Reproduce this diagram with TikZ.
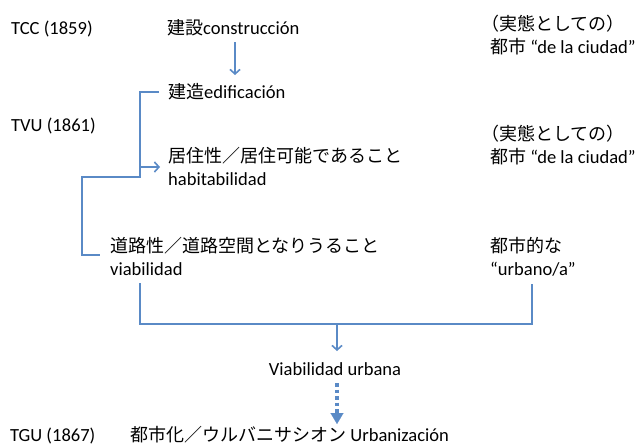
\documentclass[tikz,border=0pt]{standalone}
\usepackage{fontspec}
\setmainfont{Carlito}[Scale=1.03]
\newfontfamily\jp{Noto Sans CJK JP}
\usetikzlibrary{calc,arrows.meta}
\definecolor{lnblue}{HTML}{5A8AC6}
\begin{document}
\begin{tikzpicture}[x=1pt,y=-1pt,
  lbl/.style={inner sep=0pt,anchor=base west,font=\fontsize{18}{23}\selectfont},
  ln/.style={draw=lnblue,line width=1.6pt},
  arr/.style={ln,-{Straight Barb[length=4.5pt,width=10pt]}},
  dotarr/.style={draw=lnblue,line width=3.5pt,dash pattern=on 3.5pt off 3pt,-{Triangle[length=11pt,width=13pt,line width=0.1pt]}}]
\useasboundingbox (0,0) rectangle (639,447);
\node[lbl] (tcc) at (11,34) {TCC (1859)};
\node[lbl] (constr) at (167,34) {{\jp 建設}construcción};
\node[lbl] (edif) at (168,98) {{\jp 建造}edificación};
\node[lbl] (tvu) at (11,131) {TVU (1861)};
\node[lbl] (hab1) at (168,162) {\jp 居住性／居住可能であること};
\node[lbl] (hab2) at (168,185) {habitabilidad};
\node[lbl] (via1) at (110,252) {\jp 道路性／道路空間となりうること};
\node[lbl] (via2) at (110,275) {viabilidad};
\node[lbl] (ca1) at (481,30) {\jp （実態としての）};
\node[lbl] (cb1) at (490,53) {{\jp 都市} “de la ciudad”};
\node[lbl] (ca2) at (481,140) {\jp （実態としての）};
\node[lbl] (cb2) at (490,163) {{\jp 都市} “de la ciudad”};
\node[lbl] (urb1) at (490,252) {\jp 都市的な};
\node[lbl] (urb2) at (490,275) {“urbano/a”};
\node[lbl,anchor=base] (vu) at (335,375) {Viabilidad urbana};
\node[lbl] (tgu) at (10,441) {TGU (1867)};
\node[lbl] (urbz) at (130,441) {{\jp 都市化／ウルバニサシオン} Urbanización};
% connectors
\draw[arr] ($(constr.base west)+(68,8)$) -- ($(edif.base west)+(67,-23)$);
\coordinate (eA) at ($(edif.base west)+(-9,-6)$);
\coordinate (hA) at ($(hab1.base west)+(-8,5)$);
\coordinate (vA) at ($(via1.base west)+(-10,3)$);
\draw[ln] (eA) -- ++(-19,0) coordinate (eB) -- ++(0,85) -- ++(-58,0) |- (vA);
\draw[arr] (eB |- hA) -- (hA);
\coordinate (L) at ($(via2.base west)+(30,8)$);
\coordinate (R) at ($(urb2.base west)+(42,9)$);
\draw[ln] (L) -- ++(0,41) -| (R);
\draw[arr] ($(vu.base)+(2,-51)$) -- ($(vu.base)+(2,-24)$);
\draw[dotarr] ($(vu.base)+(2,8)$) -- ($(urbz.base west)+(207,-17)$);
\end{tikzpicture}
\end{document}
